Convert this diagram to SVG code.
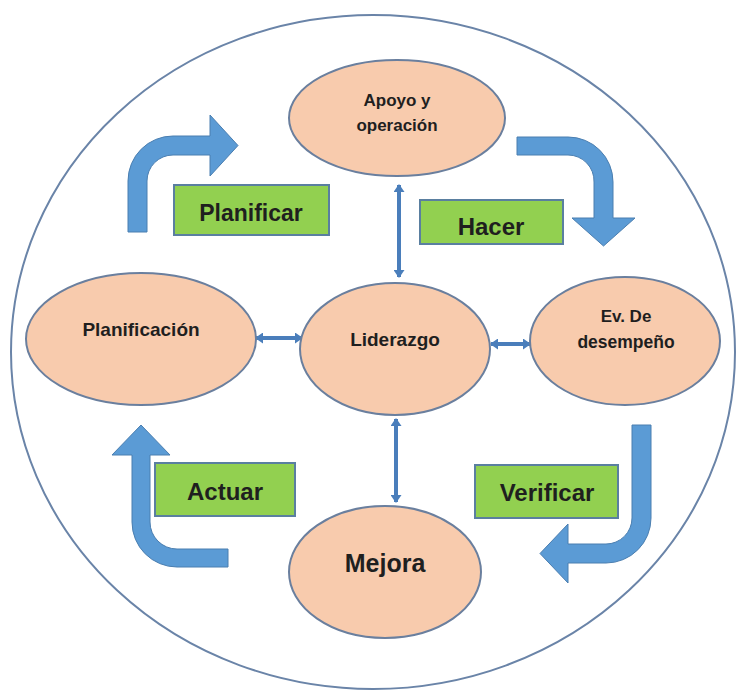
<svg xmlns="http://www.w3.org/2000/svg" width="736" height="690" viewBox="0 0 736 690">
<defs>
<style>
.node ellipse{fill:#F8CBAD;stroke:#6A7F9E;stroke-width:2}
.lbl{font-family:"Liberation Sans",Arial,sans-serif;font-weight:bold;fill:#1f1f1f;text-anchor:middle}
.box rect{fill:#92D050;stroke:#5A7FA0;stroke-width:2}
.bent{fill:#5B9BD5;stroke:#4A7EB0;stroke-width:1}
.conn{stroke:#4A7EBB;stroke-width:4;fill:none;marker-start:url(#ah);marker-end:url(#ah)}
</style>
<marker id="ah" markerUnits="userSpaceOnUse" markerWidth="8" markerHeight="11" refX="7" refY="5.5" orient="auto-start-reverse" viewBox="0 0 8 11">
<path d="M0,0 L8,5.5 L0,11 z" fill="#4A7EBB"/>
</marker>
</defs>
<rect width="736" height="690" fill="#ffffff"/>
<ellipse id="frame" cx="373" cy="352" rx="362" ry="337" fill="none" stroke="#6A84A8" stroke-width="2"/>

<g id="arrows-cycle">
<path class="bent" d="M128,232 L128,181 A45,45 0 0 1 173,136 L210,136 L210,115 L238,145.5 L210,176 L210,155 L173,155 A26,26 0 0 0 147,181 L147,232 Z"/>
<path class="bent" d="M517,137 L568,137 A45,45 0 0 1 613,182 L613,218 L635,218 L603.5,246 L572,218 L594,218 L594,182 A26,26 0 0 0 568,155 L517,155 Z"/>
<path class="bent" d="M632,425 L651,425 L651,518 A45,45 0 0 1 606,563 L568,563 L568,583 L540,553.5 L568,524 L568,544 L606,544 A26,26 0 0 0 632,518 Z"/>
<path class="bent" d="M228,567 L177,567 A45,45 0 0 1 132,522 L132,455 L112,455 L141,425 L170,455 L150,455 L150,522 A27,27 0 0 0 177,549 L228,549 Z"/>
</g>

<g id="connectors">
<line class="conn" x1="399" y1="185" x2="399" y2="277"/>
<line class="conn" x1="396" y1="419" x2="396" y2="502"/>
<line class="conn" x1="256" y1="338" x2="302" y2="338"/>
<line class="conn" x1="491" y1="344" x2="530" y2="344"/>
</g>

<g id="apoyo" class="node">
<ellipse cx="397" cy="118" rx="108" ry="58"/>
<text class="lbl" x="397" y="106" font-size="17">Apoyo y</text>
<text class="lbl" x="397" y="131" font-size="17">operación</text>
</g>
<g id="planificacion" class="node">
<ellipse cx="141" cy="339" rx="115" ry="66"/>
<text class="lbl" x="141" y="336" font-size="19">Planificación</text>
</g>
<g id="liderazgo" class="node">
<ellipse cx="395" cy="349" rx="95" ry="66"/>
<text class="lbl" x="395" y="346" font-size="19">Liderazgo</text>
</g>
<g id="desempeno" class="node">
<ellipse cx="625" cy="341" rx="95" ry="64"/>
<text class="lbl" x="626" y="322" font-size="17">Ev. De</text>
<text class="lbl" x="626" y="348" font-size="17.5">desempeño</text>
</g>
<g id="mejora" class="node">
<ellipse cx="385" cy="572" rx="96" ry="66"/>
<text class="lbl" x="385" y="572" font-size="25">Mejora</text>
</g>

<g id="planificar" class="box">
<rect x="174" y="185" width="155" height="50"/>
<text class="lbl" x="251" y="221" font-size="23">Planificar</text>
</g>
<g id="hacer" class="box">
<rect x="420" y="200" width="143" height="44"/>
<text class="lbl" x="491" y="235" font-size="24">Hacer</text>
</g>
<g id="actuar" class="box">
<rect x="155" y="463" width="140" height="53"/>
<text class="lbl" x="225" y="500" font-size="24">Actuar</text>
</g>
<g id="verificar" class="box">
<rect x="475" y="465" width="143" height="53"/>
<text class="lbl" x="547" y="501" font-size="24">Verificar</text>
</g>
</svg>
